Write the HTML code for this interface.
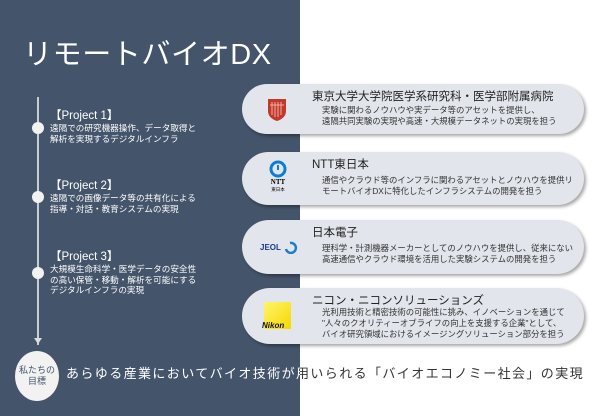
<!DOCTYPE html>
<html><head><meta charset="utf-8"><style>
*{margin:0;padding:0;box-sizing:border-box}
body{width:600px;height:416px;position:relative;overflow:hidden;background:#fff;font-family:"Liberation Sans","Noto Sans CJK JP",sans-serif}
.dark{position:absolute;left:0;top:0;width:300px;height:416px;background:#44546a}
.title{position:absolute;left:23px;top:31px;color:#fff;font-size:29px;letter-spacing:0.6px;white-space:nowrap}
.line{position:absolute;left:37px;top:97px;width:2px;height:248px;background:#c8ccd4}
.dot{position:absolute;left:32px;width:12px;height:12px;border-radius:50%;background:#f2f2f2}
.proj{position:absolute;left:50px;color:#fff;white-space:nowrap}
.proj b{display:block;font-weight:normal;font-size:11.5px;line-height:13px}
.proj span{display:block;font-size:8.6px;line-height:10.5px}
.arrow{position:absolute;left:34px;top:338px;width:0;height:0;border-left:4px solid transparent;border-right:4px solid transparent;border-top:6px solid #ddd}
.goal{position:absolute;left:15px;top:351px;width:44px;height:50px;border-radius:50%;background:#f2f2f2;color:#44546a;font-size:9px;line-height:11px;text-align:center;padding-top:14px}
.card{position:absolute;left:242px;width:342px;background:#e2e5eb;border-radius:28px;box-shadow:2px 2px 3px rgba(0,0,0,.35)}
.card h3{position:absolute;left:70px;top:4px;font-weight:normal;font-size:11.5px;color:#222;white-space:nowrap}
.card p{position:absolute;left:80px;font-size:8.4px;line-height:11px;color:#333;white-space:nowrap}
.logo{position:absolute}
.bt{position:absolute;left:66px;top:363px;font-size:13px;letter-spacing:1.4px;white-space:nowrap}
</style></head><body>
<div class="dark"></div>
<div class="title">リモートバイオDX</div>
<div class="line"></div>
<div class="dot" style="top:122px"></div>
<div class="dot" style="top:191px"></div>
<div class="dot" style="top:267px"></div>
<div class="proj" style="top:110px"><b>【Project 1】</b><span>遠隔での研究機器操作、データ取得と</span><span>解析を実現するデジタルインフラ</span></div>
<div class="proj" style="top:180px"><b>【Project 2】</b><span>遠隔での画像データ等の共有化による</span><span>指導・対話・教育システムの実現</span></div>
<div class="proj" style="top:251px"><b>【Project 3】</b><span>大規模生命科学・医学データの安全性</span><span>の高い保管・移動・解析を可能にする</span><span>デジタルインフラの実現</span></div>
<div class="arrow"></div>
<div class="goal">私たちの<br>目標</div>

<div class="card" style="top:84px;height:50px">
 <svg class="logo" style="left:25px;top:14px" width="20" height="24"><path d="M1 1H19V13Q19 20 10 23Q1 20 1 13Z" fill="#c0392b"/><path d="M5 4V17M8 4V19M11 4V19M14 4V17M3 7H17" stroke="#f3b0a0" stroke-width="1"/></svg>
 <h3>東京大学大学院医学系研究科・医学部附属病院</h3>
 <p style="top:21px">実験に関わるノウハウや実データ等のアセットを提供し、<br>遠隔共同実験の実現や高速・大規模データネットの実現を担う</p>
</div>
<div class="card" style="top:152px;height:53px">
 <svg class="logo" style="left:24px;top:8px" width="24" height="34"><circle cx="12" cy="9" r="7" fill="none" stroke="#0a7fd1" stroke-width="3"/><rect x="11" y="5" width="2" height="5" fill="#0a7fd1"/><text x="12" y="24" font-size="7" font-weight="bold" text-anchor="middle" font-family="Liberation Serif">NTT</text><text x="12" y="31" font-size="4.5" text-anchor="middle" font-family="Noto Sans CJK JP">東日本</text></svg>
 <h3>NTT東日本</h3>
 <p style="top:23px">通信やクラウド等のインフラに関わるアセットとノウハウを提供リ<br>モートバイオDXに特化したインフラシステムの開発を担う</p>
</div>
<div class="card" style="top:220px;height:54px">
 <svg class="logo" style="left:18px;top:20px" width="40" height="14"><text x="0" y="10" font-size="8" font-weight="bold" fill="#1a3a8a" font-family="Liberation Sans">JEOL</text><path d="M30 3A5 5 0 1 1 26 9" fill="none" stroke="#1a7fc9" stroke-width="2.5"/></svg>
 <h3>日本電子</h3>
 <p style="top:23px">理科学・計測機器メーカーとしてのノウハウを提供し、従来にない<br>高速通信やクラウド環境を活用した実験システムの開発を担う</p>
</div>
<div class="card" style="top:288px;height:56px">
 <div class="logo" style="left:22px;top:14px;width:27px;height:27px;background:linear-gradient(135deg,#fff46a,#f5d800);"></div>
 <div class="logo" style="left:20px;top:33px;font-size:8px;font-weight:bold;font-style:italic;color:#111">Nikon</div>
 <h3>ニコン・ニコンソリューションズ</h3>
 <p style="top:19px">光利用技術と精密技術の可能性に挑み、イノベーションを通じて<br>"人々のクオリティーオブライフの向上を支援する企業"として、<br>バイオ研究領域におけるイメージングソリューション部分を担う</p>
</div>
<div class="bt" style="color:#fff;clip-path:inset(0 calc(100% - 234px) 0 0)">あらゆる産業においてバイオ技術が用いられる「バイオエコノミー社会」の実現</div>
<div class="bt" style="color:#333;clip-path:inset(0 0 0 234px)">あらゆる産業においてバイオ技術が用いられる「バイオエコノミー社会」の実現</div>
</body></html>
